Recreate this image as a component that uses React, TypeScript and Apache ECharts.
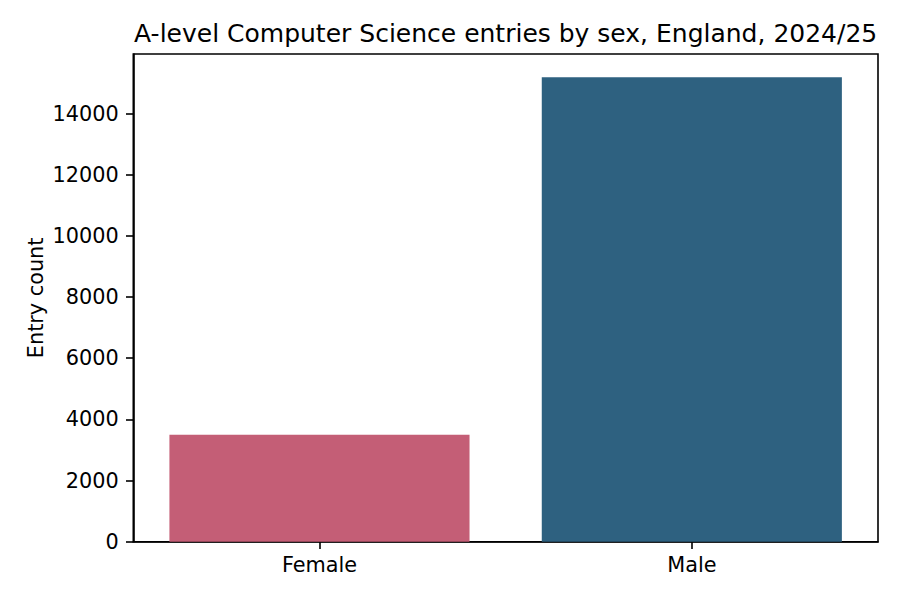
import React, { useEffect, useRef } from "react";
import * as echarts from "echarts";

const categories = ["Female", "Male"];
const entryCounts = [3500, 15190];
const barColors = ["#c45e76", "#2e6180"];
const yTickValues = [0, 2000, 4000, 6000, 8000, 10000, 12000, 14000];
const yMax = 15950;
const titleText = "A-level Computer Science entries by sex, England, 2024/25";
const yAxisTitle = "Entry count";

const FONT = "DejaVu Sans";

export default function App() {
  const ref = useRef<HTMLDivElement>(null);

  useEffect(() => {
    if (!ref.current) return;
    const chart = echarts.init(ref.current, undefined, { renderer: "svg" });
    const gridLeft = 133.3;
    const gridRight = 22;
    const gridTop = 54;
    const gridBottom = 58.3;
    const plotCenterX = (gridLeft + (900 - gridRight)) / 2;
    const plotCenterY = (gridTop + (600 - gridBottom)) / 2;

    chart.setOption({
      animation: false,
      backgroundColor: "#ffffff",
      textStyle: { fontFamily: FONT },
      grid: {
        left: gridLeft,
        right: gridRight,
        top: gridTop,
        bottom: gridBottom,
        show: true,
        borderColor: "#000000",
        borderWidth: 1.6,
        backgroundColor: "transparent",
        containLabel: false,
      },
      graphic: [
        {
          type: "text",
          x: plotCenterX,
          y: 33,
          style: {
            text: titleText,
            fontFamily: FONT,
            fontSize: 25,
            fill: "#000000",
            textAlign: "center",
            textVerticalAlign: "middle",
          },
        },
        {
          type: "text",
          x: 36,
          y: plotCenterY,
          rotation: Math.PI / 2,
          style: {
            text: yAxisTitle,
            fontFamily: FONT,
            fontSize: 20.8,
            fill: "#000000",
            textAlign: "center",
            textVerticalAlign: "middle",
          },
        },
      ],
      xAxis: {
        type: "category",
        data: categories,
        axisLine: { show: true, lineStyle: { color: "#000000", width: 1.6 } },
        axisTick: {
          show: true,
          alignWithLabel: true,
          length: 7.3,
          lineStyle: { color: "#000000", width: 1.6 },
        },
        axisLabel: {
          fontFamily: FONT,
          fontSize: 20.8,
          color: "#000000",
          margin: 13,
        },
        splitLine: { show: false },
      },
      yAxis: {
        type: "value",
        min: 0,
        max: yMax,
        interval: 2000,
        axisLine: { show: true, lineStyle: { color: "#000000", width: 1.6 } },
        axisTick: {
          show: true,
          length: 7.3,
          customValues: yTickValues,
          lineStyle: { color: "#000000", width: 1.6 },
        },
        axisLabel: {
          fontFamily: FONT,
          fontSize: 20.8,
          color: "#000000",
          margin: 14.6,
          customValues: yTickValues,
          formatter: (v: number) => String(v),
        },
        splitLine: { show: false },
      },
      series: [
        {
          type: "bar",
          barWidth: "80.6%",
          data: entryCounts.map((v, i) => ({
            value: v,
            itemStyle: { color: barColors[i] },
          })),
        },
      ],
    });
    return () => chart.dispose();
  }, []);

  return (
    <div
      ref={ref}
      style={{ position: "fixed", left: 0, top: 0, width: 900, height: 600 }}
    />
  );
}
